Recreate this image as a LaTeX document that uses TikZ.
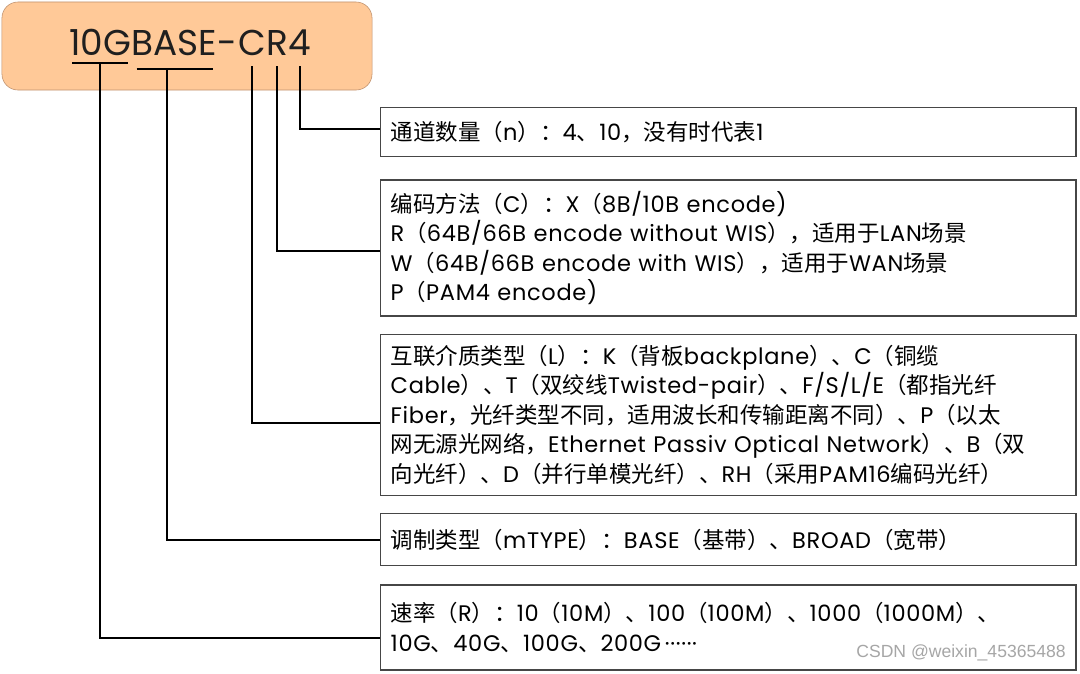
\documentclass[tikz,border=0pt]{standalone}
\usepackage{fontspec}
\usepackage{xcolor}
\usepackage{tikz}
\usetikzlibrary{positioning, calc}
\setmainfont{Poppins}[LetterSpace=3]
\newfontfamily\ttlfont{Poppins}
\newfontfamily\cjkfont{Noto Sans CJK SC}
\newfontfamily\wmfont{Liberation Sans}
% switch to the CJK font for Chinese characters and full-width punctuation
\XeTeXinterchartokenstate=1
\newcount\cjkcnt
\def\cjkrange#1#2{\cjkcnt=#1 \loop\XeTeXcharclass\cjkcnt=7 \ifnum\cjkcnt<#2 \advance\cjkcnt by 1 \repeat}
\cjkrange{"3000}{"303F}
\cjkrange{"4E00}{"9FFF}
\cjkrange{"FF00}{"FFEF}
\XeTeXinterchartoks 0 7 = {\cjkfont}
\XeTeXinterchartoks 4095 7 = {\cjkfont}
\XeTeXinterchartoks 7 0 = {\normalfont}
\XeTeXinterchartoks 7 4095 = {\normalfont}
\definecolor{titlefill}{RGB}{255,201,152}
\definecolor{titledraw}{RGB}{190,145,110}
\definecolor{boxdraw}{RGB}{70,70,70}

\begin{document}
\begin{tikzpicture}[x=0.025cm, y=-0.025cm,
    titlebox/.style={rectangle, rounded corners=0.4cm, draw=titledraw, fill=titlefill,
                     minimum width=9.25cm, minimum height=2.2cm},
    ttl/.style={inner sep=0pt, text height=0.72cm, text depth=0pt, text=black!88,
                font=\ttlfont\fontsize{25.5}{28}\selectfont},
    infobox/.style={rectangle, draw=boxdraw, line width=1pt, fill=white,
                    text width=16.875cm, inner xsep=0.25cm, inner ysep=0pt, align=left,
                    font=\fontsize{16}{21}\selectfont},
    link/.style={line width=1.4pt, black},
    node distance=0.5cm
]
\useasboundingbox (0,0) rectangle (1080,673);

% title
\node[titlebox] (title) at (187,46) {};
\node[ttl, anchor=south west] (tA) at (69,56) {10G};
\node[ttl, right=0pt of tA] (tB) {BASE};
\node[ttl, right=0pt of tB] (tD) {-};
\node[ttl, right=0pt of tD] (tC) {C};
\node[ttl, right=0pt of tC] (tR) {R};
\node[ttl, right=0pt of tR] (tN) {4};

% explanation boxes
\node[infobox, anchor=north west, minimum height=1.225cm] (chan) at (380,107)
  {通道数量（n）：4、10，没有时代表1};
\node[infobox, below=0.55cm of chan, minimum height=3.4cm] (code)
  {编码方法（C）：X（8B/10B encode)\\
   R（64B/66B encode without WIS），适用于LAN场景\\
   W（64B/66B encode with WIS），适用于WAN场景\\
   P（PAM4 encode)};
\node[infobox, below=0.42cm of code, minimum height=4.025cm] (medium)
  {互联介质类型（L）：K（背板backplane）、C（铜缆\\
   Cable）、T（双绞线Twisted-pair）、F/S/L/E（都指光纤\\
   Fiber，光纤类型不同，适用波长和传输距离不同）、P（以太\\
   网无源光网络，Ethernet Passiv Optical Network）、B（双\\
   向光纤）、D（并行单模光纤）、RH（采用PAM16编码光纤）};
\node[infobox, below=0.42cm of medium, minimum height=1.3cm] (mtype)
  {调制类型（mTYPE）：BASE（基带）、BROAD（宽带）};
\node[infobox, below=0.45cm of mtype, minimum height=2.125cm] (rate)
  {速率（R）：10（10M）、100（100M）、1000（1000M）、\\
   10G、40G、100G、200G\,······};
\node[anchor=south east, inner sep=0pt, text=black!35, font=\wmfont\fontsize{12.5}{14}\selectfont]
  (mark) at (1066,661) {CSDN @weixin\_45365488};

% underlines and leader lines
\coordinate[below=0.17cm of tA.south] (uA);
\coordinate[below=0.32cm of tB.south] (uB);
\coordinate[below=0.25cm of tC.south] (uC);
\coordinate[below=0.25cm of tR.south] (uR);
\coordinate[below=0.25cm of tN.south] (uN);
\draw[link] ([xshift=-0.7cm]uA) -- ([xshift=0.7cm]uA);
\draw[link] ([xshift=-0.95cm]uB) -- ([xshift=0.95cm]uB);
\draw[link] (uN) |- ([yshift=0.08cm]chan.west);
\draw[link] (uR) |- ([yshift=-0.08cm]code.west);
\draw[link] (uC) |- ([yshift=-0.2cm]medium.west);
\draw[link] ([xshift=-0.18cm]uB) |- (mtype.west);
\draw[link] (uA) |- ([yshift=-0.25cm]rate.west);
\end{tikzpicture}
\end{document}
